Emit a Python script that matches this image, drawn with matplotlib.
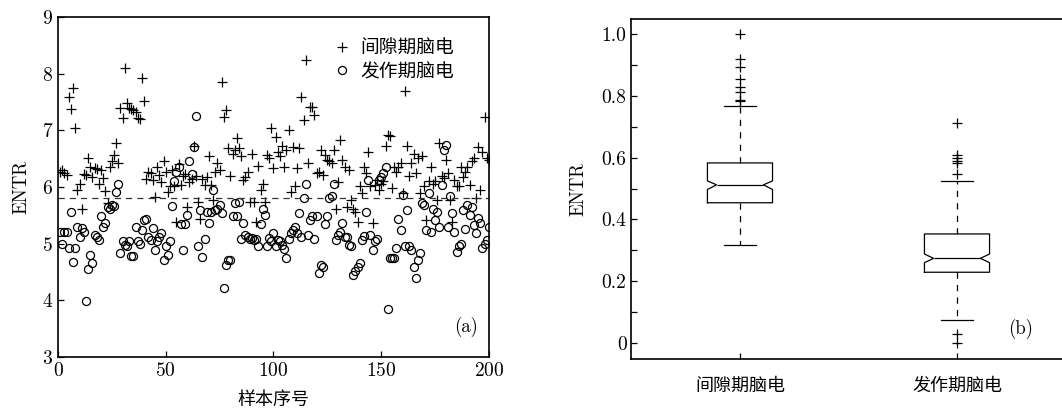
import matplotlib
matplotlib.use("Agg")
import matplotlib.pyplot as plt
import numpy as np

plt.rcParams["font.family"] = ["cmr10", "Noto Sans CJK SC", "DejaVu Sans"]
plt.rcParams["axes.formatter.use_mathtext"] = True
plt.rcParams["axes.unicode_minus"] = False

# ---- panel (a): ENTR per sample ----
sample_idx = np.arange(1, 201)

interictal = [
    6.27, 6.30, 6.25, 6.22, 7.58, 7.37, 7.74, 7.04, 5.95, 6.06,
    5.61, 6.23, 6.21, 6.52, 6.36, 6.17, 6.33, 6.32, 6.06, 6.30,
    6.15, 5.93, 5.72, 6.36, 6.45, 6.56, 6.77, 6.43, 7.40, 7.22,
    8.10, 7.49, 7.39, 7.38, 7.35, 7.33, 7.22, 7.20, 7.93, 7.52,
    6.14, 6.27, 6.24, 6.12, 5.83, 6.36, 6.21, 6.09, 6.45, 6.27,
    5.92, 6.02, 6.30, 6.02, 5.39, 6.40, 6.04, 6.19, 6.23, 5.65,
    6.08, 6.14, 6.72, 6.19, 5.74, 5.44, 6.14, 6.04, 6.18, 6.54,
    6.04, 5.77, 6.27, 6.43, 6.30, 7.85, 7.23, 7.36, 6.68, 6.19,
    6.59, 6.65, 6.86, 6.68, 6.54, 6.12, 6.18, 6.27, 5.74, 6.59,
    5.74, 5.39, 6.37, 5.95, 6.06, 5.74, 6.56, 6.51, 7.04, 6.33,
    6.89, 6.62, 6.55, 6.72, 6.36, 6.65, 7.00, 5.92, 6.70, 6.01,
    6.34, 6.68, 7.59, 7.19, 8.24, 6.43, 7.41, 7.42, 7.27, 6.24,
    6.27, 6.65, 6.21, 6.56, 6.48, 6.45, 6.42, 6.65, 5.62, 6.08,
    6.83, 6.48, 6.36, 5.65, 6.30, 5.77, 5.62, 5.56, 5.39, 6.01,
    5.89, 6.36, 6.24, 6.62, 6.01, 5.36, 6.04, 6.12, 5.95, 6.05,
    6.11, 6.72, 6.92, 6.90, 5.98, 6.36, 6.27, 6.36, 6.42, 5.90,
    7.70, 6.72, 6.20, 6.42, 6.59, 6.24, 6.52, 5.89, 6.54, 6.01,
    5.42, 6.10, 6.36, 6.06, 6.10, 5.77, 6.77, 6.20, 6.15, 6.48,
    6.25, 5.77, 5.39, 6.12, 6.01, 6.01, 6.36, 6.18, 6.27, 6.36,
    6.04, 6.45, 6.52, 5.80, 6.71, 5.95, 6.62, 7.24, 6.51, 6.48,
]

ictal = [
    5.20, 4.99, 5.20, 5.20, 4.92, 5.56, 4.67, 4.93, 5.29, 5.12,
    5.27, 5.21, 3.99, 4.56, 4.80, 4.65, 5.16, 5.12, 5.06, 5.49,
    5.29, 5.37, 5.65, 5.62, 5.68, 5.67, 5.92, 6.05, 4.83, 5.05,
    4.98, 4.96, 5.04, 4.79, 4.79, 5.30, 5.04, 5.00, 5.24, 5.42,
    5.44, 5.12, 5.06, 5.27, 4.89, 5.04, 5.12, 5.18, 4.71, 4.95,
    4.80, 5.04, 5.66, 6.11, 6.27, 6.36, 5.35, 4.88, 5.35, 5.51,
    6.46, 6.23, 6.71, 7.25, 4.96, 5.59, 4.77, 5.09, 5.56, 5.37,
    5.56, 5.95, 5.59, 5.62, 5.68, 5.54, 4.21, 4.62, 4.71, 4.71,
    5.49, 5.72, 5.49, 5.74, 5.08, 5.36, 5.15, 5.12, 5.09, 5.10,
    5.06, 5.09, 4.95, 5.35, 5.61, 5.51, 4.95, 5.10, 5.04, 5.18,
    4.95, 5.06, 5.04, 4.98, 4.90, 4.75, 5.09, 5.18, 5.24, 5.29,
    5.18, 5.54, 5.11, 5.80, 6.06, 5.15, 5.42, 5.48, 5.08, 5.49,
    4.48, 4.62, 4.59, 5.35, 5.49, 5.80, 5.84, 6.06, 5.06, 5.15,
    5.20, 5.37, 5.12, 5.12, 4.98, 4.96, 4.45, 4.52, 4.59, 4.65,
    5.06, 5.14, 5.55, 6.12, 5.15, 4.89, 5.04, 5.09, 6.12, 6.18,
    6.24, 6.36, 3.84, 4.74, 4.74, 4.75, 4.92, 5.43, 5.24, 5.86,
    4.95, 5.60, 4.95, 4.89, 4.59, 4.39, 4.71, 4.83, 5.72, 5.68,
    5.24, 5.89, 5.21, 5.62, 5.42, 5.56, 5.30, 6.04, 6.65, 6.74,
    5.29, 5.84, 5.54, 5.20, 4.86, 4.95, 5.00, 5.60, 5.25, 5.68,
    5.51, 5.64, 5.33, 5.18, 5.45, 5.36, 4.92, 5.00, 5.06, 5.30,
]

threshold = 5.8
series_labels = ["间隙期脑电", "发作期脑电"]

# ---- panel (b): boxplot summary of normalised ENTR ----
box_stats = [
    dict(med=0.512, q1=0.454, q3=0.583, cilo=0.497, cihi=0.525,
         whislo=0.317, whishi=0.768,
         fliers=[0.783, 0.786, 0.813, 0.829, 0.854, 0.893, 0.921, 1.0]),
    dict(med=0.274, q1=0.229, q3=0.353, cilo=0.260, cihi=0.288,
         whislo=0.073, whishi=0.524,
         fliers=[0.711, 0.608, 0.598, 0.588, 0.583, 0.548, 0.028, 0.0]),
]
box_pos = [1, 2]
box_width = 0.3


def main():
    fig = plt.figure(figsize=(10.62, 4.15), dpi=100)

    ax1 = fig.add_axes([0.0546, 0.1398, 0.4058, 0.8193])
    ax1.plot(sample_idx, interictal, linestyle="none", marker="+",
             markersize=7, markeredgewidth=0.9, color="black",
             label=series_labels[0])
    ax1.plot(sample_idx, ictal, linestyle="none", marker="o",
             markersize=5.8, markerfacecolor="none", markeredgewidth=0.9,
             color="black", label=series_labels[1])
    ax1.axhline(threshold, color="#333333", linestyle=(0, (5, 4)), linewidth=0.9)
    ax1.set_xlim(0, 200)
    ax1.set_ylim(3, 9)
    ax1.set_xticks([0, 50, 100, 150, 200])
    ax1.set_yticks(range(3, 10))
    ax1.set_xlabel("样本序号", fontsize=13, labelpad=8)
    ax1.set_ylabel("ENTR", fontsize=13.5, labelpad=8)
    ax1.legend(loc="upper right", frameon=False, fontsize=13.5,
               handletextpad=0.5, borderaxespad=1.0, labelspacing=0.3,
               handlelength=1.0, borderpad=0.2,
               bbox_to_anchor=(0.972, 1.0))
    ax1.text(0.975, 0.06, "(a)", transform=ax1.transAxes, ha="right",
             va="bottom", fontsize=13.5)

    ax2 = fig.add_axes([0.5946, 0.1349, 0.4087, 0.8193])
    parts = ax2.bxp(
        box_stats,
        positions=box_pos,
        widths=box_width,
        capwidths=0.15,
        shownotches=True,
        boxprops=dict(color="black", linewidth=0.9),
        medianprops=dict(color="black", linewidth=0.9),
        whiskerprops=dict(color="black", linewidth=0.9, linestyle=(0, (5, 5))),
        capprops=dict(color="black", linewidth=0.9),
        flierprops=dict(marker="+", markersize=6.5, markeredgecolor="black",
                        markeredgewidth=0.9, linestyle="none"),
    )
    # shallower notches, as in the original figure
    for box, med, pos in zip(parts["boxes"], parts["medians"], box_pos):
        left, right = pos - box_width / 2, pos + box_width / 2
        nl, nr = pos - box_width * 0.36, pos + box_width * 0.36
        box.set_xdata([left, right, right, nr, right, right,
                       left, left, nl, left, left])
        med.set_xdata([nl, nr])

    ax2.set_xlim(0.5, 2.5)
    ax2.set_ylim(-0.052, 1.049)
    ax2.set_xticks(box_pos)
    ax2.set_xticklabels(series_labels, fontsize=13)
    yt = np.round(np.arange(0, 1.01, 0.1), 1)
    ax2.set_yticks(yt)
    ax2.set_yticklabels(["0" if v == 0 else (f"{v:.1f}" if i % 2 == 0 else "")
                         for i, v in enumerate(yt)])
    ax2.set_ylabel("ENTR", fontsize=13.5, labelpad=10)
    ax2.text(0.925, 0.06, "(b)", transform=ax2.transAxes, ha="right",
             va="bottom", fontsize=13.5)

    for ax in (ax1, ax2):
        for side in ("top", "right", "left", "bottom"):
            ax.spines[side].set_linewidth(1.2)
        ax.tick_params(direction="in", length=4, width=0.9, labelsize=14,
                       top=False, right=False)
    ax2.tick_params(axis="x", pad=13, labelsize=13)

    fig.savefig("out.png", dpi=100)
    plt.close(fig)


if __name__ == "__main__":
    main()
